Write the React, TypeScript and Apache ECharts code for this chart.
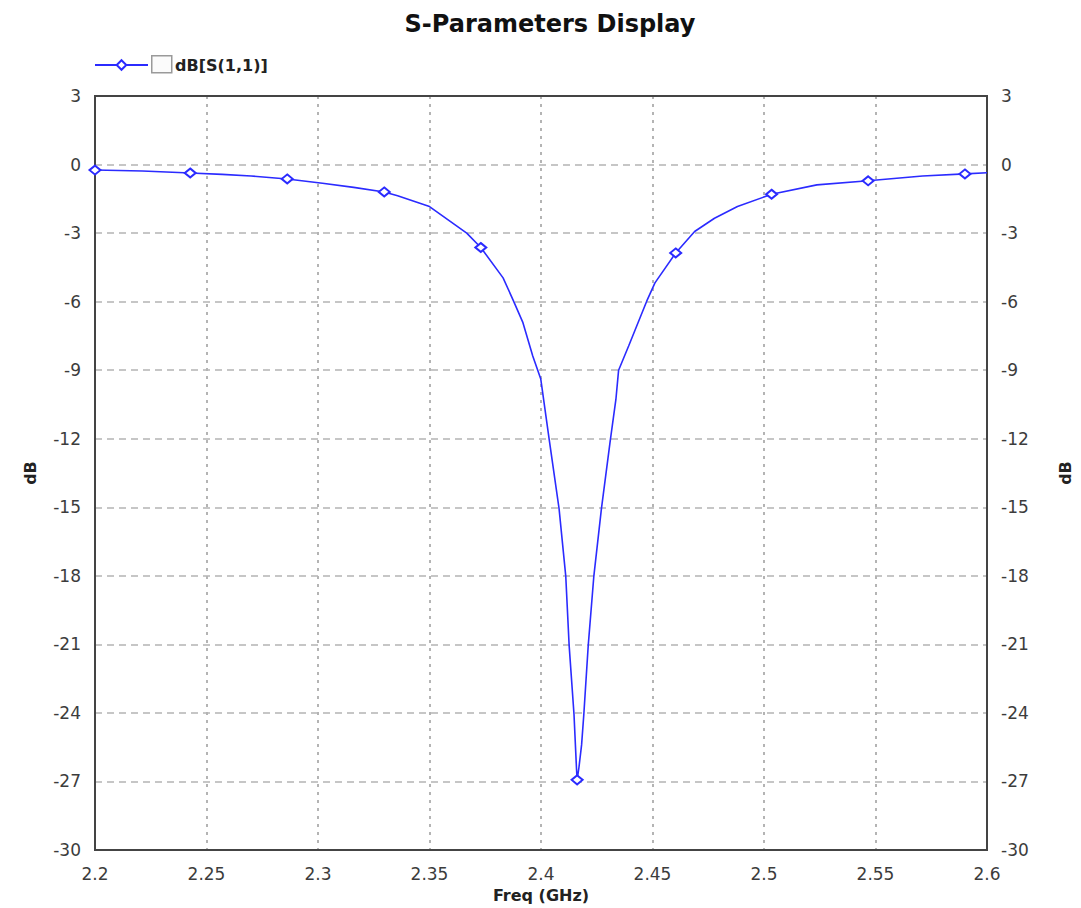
import React, { useEffect, useRef } from "react";
import * as echarts from "echarts";

const titleText = "S-Parameters Display";
const seriesName = "dB[S(1,1)]";
const xAxisName = "Freq (GHz)";
const yAxisName = "dB";

// frequency points (GHz) of the trace
const freqGHz = [
  2.2, 2.2213, 2.2427, 2.257, 2.27, 2.2862, 2.302, 2.316, 2.3297, 2.3357, 2.35,
  2.3667, 2.373, 2.383, 2.3874, 2.3919, 2.3963, 2.3999, 2.4037, 2.4081, 2.4111,
  2.4126, 2.4148, 2.4159, 2.4162, 2.417, 2.4182, 2.4192, 2.4212, 2.4237, 2.4271,
  2.4311, 2.4336, 2.4348, 2.4393, 2.4474, 2.4511, 2.4604, 2.4689, 2.4778, 2.4881,
  2.5034, 2.5237, 2.5467, 2.5711, 2.5901, 2.6,
];

// dB(S11) values at those frequencies
const s11dB = [
  -0.24, -0.28, -0.37, -0.43, -0.5, -0.63, -0.82, -1.0, -1.2, -1.37, -1.84,
  -3.0, -3.63, -4.96, -5.91, -6.92, -8.38, -9.39, -12.05, -15.06, -18.01,
  -21.02, -24.07, -26.4, -26.93, -26.4, -25.4, -24.07, -21.02, -18.01, -15.06,
  -12.05, -10.27, -9.0, -7.94, -5.98, -5.18, -3.87, -2.93, -2.35, -1.84,
  -1.3, -0.89, -0.71, -0.5, -0.41, -0.36,
];

// frequencies carrying a marker
const markerFreq = [
  2.2, 2.2427, 2.2862, 2.3297, 2.373, 2.4162, 2.4604, 2.5034, 2.5467, 2.5901,
];

const xTicks = { min: 2.2, max: 2.6, interval: 0.05 };
const yTicks = { min: -30, max: 3, interval: 3 };

const FONT = "'DejaVu Sans', Verdana, sans-serif";

export default function App() {
  const ref = useRef<HTMLDivElement>(null);

  useEffect(() => {
    if (!ref.current) return;
    const chart = echarts.init(ref.current, null, { renderer: "svg" });
    const markerSet = new Set(markerFreq);
    const data = freqGHz.map((f, i) => ({
      value: [f, s11dB[i]],
      symbol: markerSet.has(f) ? "emptyDiamond" : "none",
    }));

    const labelStyle = {
      fontFamily: FONT,
      fontSize: 17,
      color: "#3c3c3c",
    };
    const nameStyle = {
      fontFamily: FONT,
      fontSize: 16,
      fontWeight: "bold" as const,
      color: "#222",
    };
    const axisLineStyle = { color: "#444", width: 2 };

    const yCommon = {
      type: "value" as const,
      min: yTicks.min,
      max: yTicks.max,
      interval: yTicks.interval,
      name: yAxisName,
      nameLocation: "middle" as const,
      nameRotate: 90,
      nameTextStyle: nameStyle,
      axisTick: { show: false },
      axisLine: { show: true, onZero: false, lineStyle: axisLineStyle },
      axisLabel: { ...labelStyle, margin: 14 },
    };

    chart.setOption({
      animation: false,
      backgroundColor: "#fff",
      title: {
        text: titleText,
        left: 545,
        textAlign: "center",
        top: 7,
        textStyle: {
          fontFamily: FONT,
          fontSize: 24,
          fontWeight: "bold",
          color: "#111",
        },
      },
      legend: {
        data: [seriesName],
        left: 94,
        top: 57,
        padding: 0,
        itemWidth: 53,
        itemHeight: 12,
        textStyle: {
          fontFamily: FONT,
          fontSize: 16,
          fontWeight: "bold",
          color: "#222",
          padding: [0, 0, 0, 22],
        },
      },
      graphic: [
        {
          type: "rect",
          left: 151,
          top: 55,
          shape: { width: 20, height: 17 },
          style: { fill: "#fbfbfb", stroke: "#9a9a9a", lineWidth: 1.5 },
        },
      ],
      grid: {
        left: 95,
        right: 86,
        top: 96,
        bottom: 55,
        show: true,
        borderColor: "#444",
        borderWidth: 2,
        backgroundColor: "#fff",
      },
      xAxis: [
        {
          type: "value",
          min: xTicks.min,
          max: xTicks.max,
          interval: xTicks.interval,
          name: xAxisName,
          nameLocation: "middle",
          nameGap: 37,
          nameTextStyle: nameStyle,
          axisTick: { show: false },
          axisLine: { show: true, onZero: false, lineStyle: axisLineStyle },
          axisLabel: {
            ...labelStyle,
            margin: 15,
            formatter: (v: number) => String(parseFloat(v.toFixed(2))),
          },
          splitLine: {
            show: true,
            lineStyle: { color: "#b4b4b4", width: 2, type: [3, 5] },
          },
        },
        {
          type: "value",
          position: "top",
          min: xTicks.min,
          max: xTicks.max,
          interval: xTicks.interval,
          axisTick: { show: false },
          axisLabel: { show: false },
          axisLine: { show: true, onZero: false, lineStyle: axisLineStyle },
          splitLine: { show: false },
        },
      ],
      yAxis: [
        {
          ...yCommon,
          position: "left",
          nameGap: 57,
          splitLine: {
            show: true,
            lineStyle: { color: "#b4b4b4", width: 1.5, type: [7, 5] },
          },
        },
        {
          ...yCommon,
          position: "right",
          nameGap: 70,
          splitLine: { show: false },
        },
      ],
      series: [
        {
          name: seriesName,
          type: "line",
          xAxisIndex: 0,
          yAxisIndex: 0,
          data,
          symbol: "emptyDiamond",
          symbolSize: [11, 9],
          showSymbol: true,
          showAllSymbol: true,
          smooth: false,
          lineStyle: { color: "#2b2bff", width: 1.6 },
          itemStyle: { color: "#2b2bff", borderWidth: 1.5 },
        },
      ],
    });

    return () => chart.dispose();
  }, []);

  return (
    <div
      ref={ref}
      style={{ position: "absolute", left: 0, top: 0, width: 1081, height: 908 }}
    />
  );
}
